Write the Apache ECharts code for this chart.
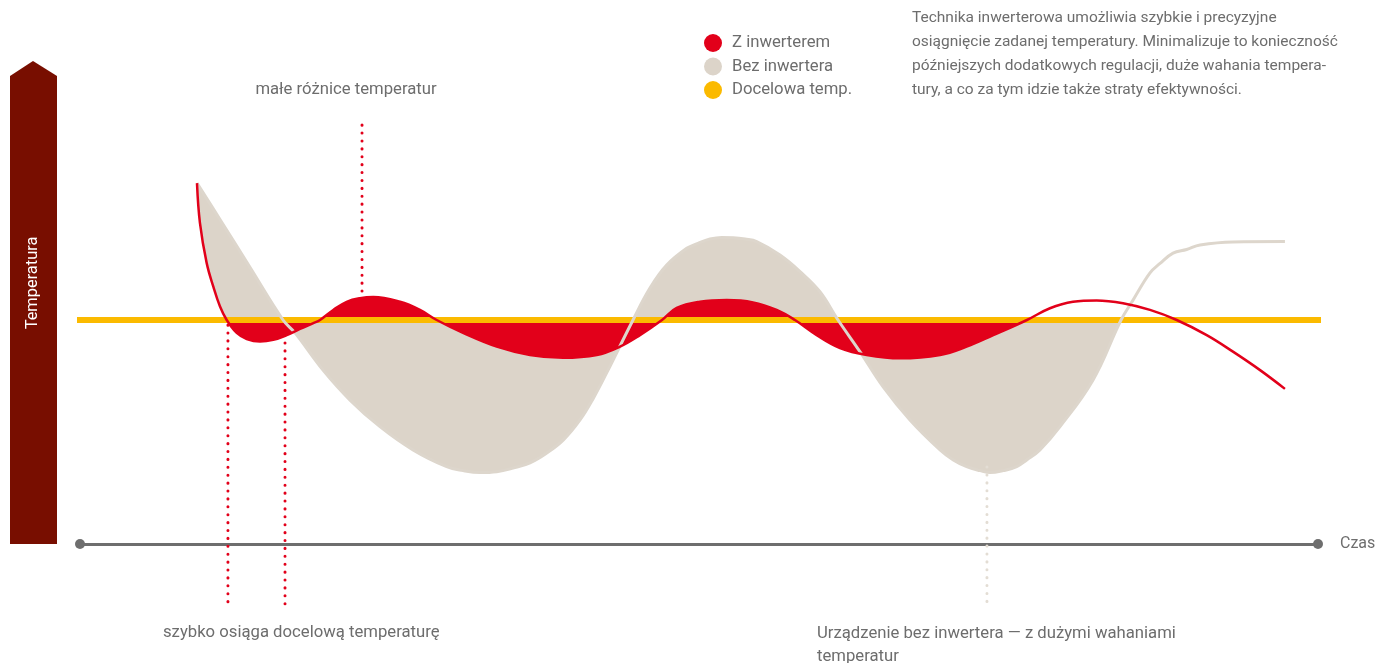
<!DOCTYPE html>
<html>
<head>
<meta charset="utf-8">
<script src="https://cdn.jsdelivr.net/npm/echarts@6/dist/echarts.min.js"></script>
<style>
  html, body { margin: 0; padding: 0; background: #fff; }
  #chart { width: 1375px; height: 663px; }
</style>
</head>
<body>
<div id="chart"></div>
<script>
// czas (0-100) i temperatura
var redTime = [9.45, 9.69, 10.23, 10.77, 11.31, 11.85, 12.66, 13.47, 14.54, 15.61, 16.70, 17.77, 18.85, 19.39,
  20.46, 21.54, 22.62, 23.69, 25.85, 27.46, 28.81, 30.94, 33.66, 36.35, 39.01, 41.74, 43.62, 45.23, 47.01,
  48.20, 50.08, 52.24, 54.36, 56.27, 57.75, 59.51, 61.39, 63.55, 66.24, 69.47, 71.62, 73.77, 76.49,
  78.35, 80.21, 82.12, 84.25, 86.43, 88.59, 91.01, 93.13, 95.32, 97.33];
var redTemp = [25.89, 24.46, 23.04, 22.19, 21.48, 21.0, 20.54, 20.32, 20.23, 20.29, 20.46, 20.68, 20.89, 21.0,
  21.36, 21.65, 21.78, 21.82, 21.65, 21.36, 21.0, 20.54, 20.05, 19.75, 19.65, 19.75, 20.05, 20.46, 21.0,
  21.43, 21.65, 21.71, 21.63, 21.36, 21.0, 20.46, 20.0, 19.75, 19.63, 19.75, 20.05, 20.46, 21.0,
  21.42, 21.65, 21.70, 21.60, 21.36, 21.0, 20.46, 19.87, 19.21, 18.54];

var beigeTime = [9.45, 11.31, 13.73, 16.40, 17.37, 19.63, 21.81, 24.23, 26.90, 29.62, 30.94, 32.31, 33.66,
  34.98, 36.35, 37.70, 39.03, 40.39, 41.46, 42.54, 44.67, 46.04, 47.39, 49.01, 49.92, 50.89, 51.83, 52.77,
  53.72, 54.66, 56.54, 58.16, 59.77, 61.23, 63.00, 64.86, 67.04, 69.47, 70.54, 71.62, 72.70, 73.51, 74.58,
  75.66, 76.47, 77.54, 79.16, 81.83, 84.09, 85.06, 86.43, 87.24, 88.29, 89.39, 90.47, 93.13, 97.33];
var beigeTemp = [25.89, 24.59, 22.88, 21.0, 20.54, 19.21, 18.14, 17.19, 16.36, 15.76, 15.62, 15.55, 15.58,
  15.71, 15.90, 16.25, 16.71, 17.43, 18.20, 19.11, 21.0, 22.14, 22.96, 23.56, 23.74, 23.89, 23.95, 23.94,
  23.89, 23.80, 23.32, 22.73, 22.01, 21.0, 19.87, 18.62, 17.43, 16.36, 16.0, 15.76, 15.62, 15.55, 15.62,
  15.76, 16.0, 16.36, 17.19, 18.86, 21.0, 21.71, 22.68, 23.02, 23.39, 23.52, 23.68, 23.79, 23.80];

var targetTemp = 21;
var targetSpan = [-0.35, 100.55];

// zakresy wypełnień
var redFillRange = [11.85, 76.49];
var whiteMaskRange = [9.45, 11.85];
var beigeFillRange = [9.45, 84.09];

// linie kropkowane: czas, od, do
var guideTime = [11.95, 16.56, 22.78, 73.26];
var guideFrom = [20.82, 20.18, 27.96, 15.75];
var guideTo = [10.71, 10.71, 22.0, 10.71];
var guideColor = ['#e2001a', '#e2001a', '#e2001a', '#e3ddd4'];

var RED = '#e2001a', BEIGE = '#dcd4c9', YELLOW = '#fbba00', GREY = '#6e6e6e';
var FONT = 'Roboto';
var SMOOTH = 0.4;

function pairs(ts, vs, range) {
  var out = [];
  for (var i = 0; i < ts.length; i++) {
    if (ts[i] >= range[0] && ts[i] <= range[1]) out.push([ts[i], vs[i]]);
  }
  return out;
}
function all(ts, vs) { return pairs(ts, vs, [-Infinity, Infinity]); }

var chart = echarts.init(document.getElementById('chart'));

var series = [
  {
    name: 'bezFill', type: 'line', data: pairs(beigeTime, beigeTemp, beigeFillRange),
    smooth: SMOOTH, showSymbol: false, silent: true, z: 1,
    lineStyle: { width: 0 }, areaStyle: { color: BEIGE, opacity: 1, origin: targetTemp }
  },
  {
    name: 'mask', type: 'line', data: pairs(redTime, redTemp, whiteMaskRange),
    smooth: SMOOTH, showSymbol: false, silent: true, z: 2,
    lineStyle: { width: 0 }, areaStyle: { color: '#fff', opacity: 1, origin: targetTemp }
  },
  {
    name: 'zFill', type: 'line', data: pairs(redTime, redTemp, redFillRange),
    smooth: SMOOTH, showSymbol: false, silent: true, z: 3,
    lineStyle: { width: 0 }, areaStyle: { color: RED, opacity: 1, origin: targetTemp }
  },
  {
    name: 'Docelowa temp.', type: 'line', clip: false,
    data: [[targetSpan[0], targetTemp], [targetSpan[1], targetTemp]],
    showSymbol: false, z: 4, itemStyle: { color: YELLOW },
    lineStyle: { color: YELLOW, width: 6, cap: 'round' }
  },
  {
    name: 'Bez inwertera', type: 'line', data: all(beigeTime, beigeTemp),
    smooth: SMOOTH, showSymbol: false, z: 5, itemStyle: { color: BEIGE },
    lineStyle: { color: '#ddd6cc', width: 3 }
  },
  {
    name: 'Z inwerterem', type: 'line', data: all(redTime, redTemp),
    smooth: SMOOTH, showSymbol: false, z: 6, itemStyle: { color: RED },
    lineStyle: { color: RED, width: 2.5 }
  }
];

guideTime.forEach(function (t, i) {
  series.push({
    name: 'guide' + i, type: 'line', clip: false, silent: true, showSymbol: false, z: 7,
    data: [[t, guideFrom[i]], [t, guideTo[i]]],
    lineStyle: { color: guideColor[i], width: 3, type: [0.1, 7.8], cap: 'round' }
  });
});

var option = {
  animation: false,
  backgroundColor: '#fff',
  grid: { left: 80, right: 57, top: 68, bottom: 119, outerBoundsMode: 'none' },
  xAxis: {
    type: 'value', min: 0, max: 100,
    name: 'Czas', nameLocation: 'end', nameGap: 22,
    nameTextStyle: { color: GREY, fontFamily: FONT, fontSize: 16, verticalAlign: 'middle' },
    axisLine: { show: true, lineStyle: { color: GREY, width: 3 }, symbol: ['circle', 'circle'], symbolSize: [10, 10] },
    axisTick: { show: false }, axisLabel: { show: false }, splitLine: { show: false }
  },
  yAxis: { type: 'value', min: 13, max: 30, show: false },
  legend: {
    data: ['Z inwerterem', 'Bez inwertera', 'Docelowa temp.'],
    orient: 'vertical', left: 699, top: 29, icon: 'circle',
    itemWidth: 18, itemHeight: 18, itemGap: 5.5,
    textStyle: { color: '#6d6d6d', fontFamily: FONT, fontSize: 16.7, padding: [0, 0, 0, 5] }
  },
  graphic: [
    {
      type: 'polygon', z: 10,
      shape: { points: [[10, 544], [10, 76], [33, 61], [57, 76], [57, 544]] },
      style: { fill: '#780e00' }
    },
    {
      type: 'text', z: 11, x: 33, y: 283, rotation: Math.PI / 2,
      style: { text: 'Temperatura', fill: '#fff', font: '16.4px ' + FONT, align: 'center', verticalAlign: 'middle' }
    },
    {
      type: 'text', x: 346, y: 90,
      style: { text: 'małe różnice temperatur', fill: '#6d6d6d', font: '16.7px ' + FONT, align: 'center', verticalAlign: 'middle' }
    },
    {
      type: 'text', x: 163, y: 633,
      style: { text: 'szybko osiąga docelową temperaturę', fill: '#6d6d6d', font: '16.7px ' + FONT, verticalAlign: 'middle' }
    },
    {
      type: 'text', x: 817, y: 622,
      style: { text: 'Urządzenie bez inwertera — z dużymi wahaniami\ntemperatur', fill: '#6d6d6d', font: '16.7px ' + FONT, lineHeight: 23, verticalAlign: 'top' }
    },
    {
      type: 'text', x: 912, y: 6,
      style: {
        text: 'Technika inwerterowa umożliwia szybkie i precyzyjne\nosiągnięcie zadanej temperatury. Minimalizuje to konieczność\npóźniejszych dodatkowych regulacji, duże wahania tempera-\ntury, a co za tym idzie także straty efektywności.',
        fill: '#6d6d6d', font: '15.5px ' + FONT, lineHeight: 24, verticalAlign: 'top'
      }
    }
  ],
  series: series
};

chart.setOption(option);
</script>
</body>
</html>
